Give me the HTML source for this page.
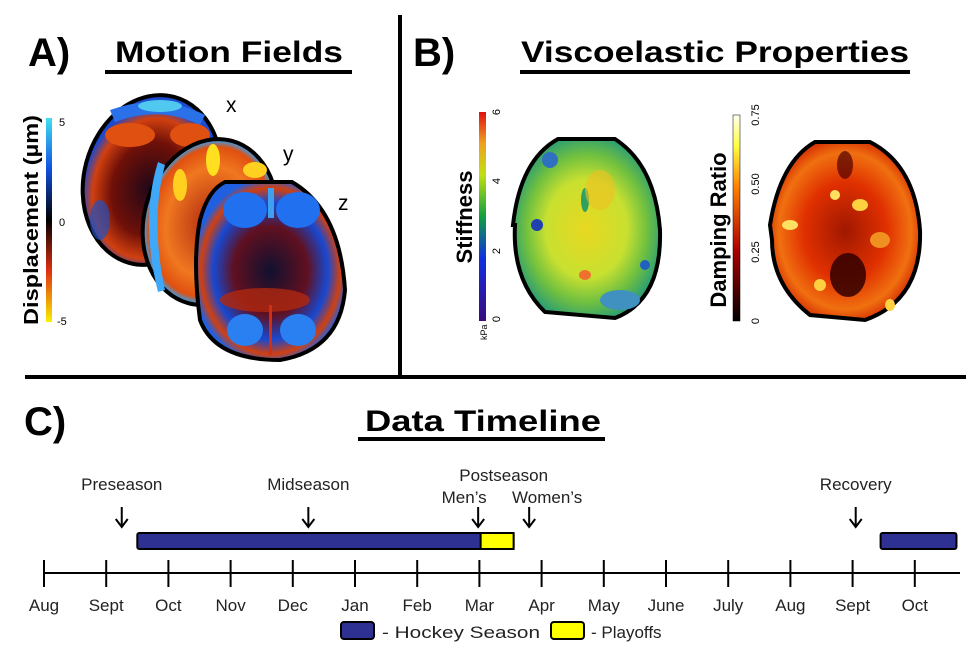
<!DOCTYPE html>
<html><head><meta charset="utf-8"><style>
body{margin:0;background:#fff;width:974px;height:669px;overflow:hidden}
svg{display:block;font-family:"Liberation Sans",Arial,sans-serif}
</style></head><body>
<svg width="974" height="669" viewBox="0 0 974 669">
<defs>
<linearGradient id="disp" x1="0" y1="0" x2="0" y2="1"><stop offset="0" stop-color="#40e0f0"/><stop offset="0.25" stop-color="#1050e0"/><stop offset="0.5" stop-color="#000"/><stop offset="0.75" stop-color="#e03010"/><stop offset="1" stop-color="#f8f000"/></linearGradient>
<linearGradient id="stiff" x1="0" y1="1" x2="0" y2="0"><stop offset="0" stop-color="#3a0a80"/><stop offset="0.3" stop-color="#1030e0"/><stop offset="0.5" stop-color="#10a040"/><stop offset="0.7" stop-color="#c0e010"/><stop offset="0.85" stop-color="#f0a020"/><stop offset="1" stop-color="#e01010"/></linearGradient>
<linearGradient id="damp" x1="0" y1="1" x2="0" y2="0"><stop offset="0" stop-color="#000"/><stop offset="0.35" stop-color="#b00000"/><stop offset="0.65" stop-color="#ff8000"/><stop offset="0.85" stop-color="#ffff40"/><stop offset="1" stop-color="#fffff0"/></linearGradient>
<radialGradient id="bx" cx="0.5" cy="0.55" r="0.55"><stop offset="0" stop-color="#200818"/><stop offset="0.5" stop-color="#701008"/><stop offset="0.75" stop-color="#d04010"/><stop offset="0.9" stop-color="#1848d0"/><stop offset="1" stop-color="#2050d0"/></radialGradient>
<radialGradient id="by" cx="0.5" cy="0.5" r="0.55"><stop offset="0" stop-color="#b02810"/><stop offset="0.6" stop-color="#f07820"/><stop offset="0.82" stop-color="#e05010"/><stop offset="0.9" stop-color="#30a0f0"/></radialGradient>
<radialGradient id="bz" cx="0.5" cy="0.5" r="0.55"><stop offset="0" stop-color="#101030"/><stop offset="0.45" stop-color="#601020"/><stop offset="0.7" stop-color="#1848d0"/><stop offset="0.85" stop-color="#d04010"/><stop offset="0.95" stop-color="#2060e0"/></radialGradient>
<radialGradient id="bs" cx="0.5" cy="0.5" r="0.55"><stop offset="0" stop-color="#e8d820"/><stop offset="0.5" stop-color="#c8e030"/><stop offset="0.75" stop-color="#70c040"/><stop offset="0.95" stop-color="#30a070"/></radialGradient>
<radialGradient id="bd" cx="0.5" cy="0.5" r="0.55"><stop offset="0" stop-color="#a01800"/><stop offset="0.5" stop-color="#e03000"/><stop offset="0.8" stop-color="#f07010"/><stop offset="1" stop-color="#d02000"/></radialGradient>
</defs>

<line x1="400" y1="15" x2="400" y2="378" stroke="#000" stroke-width="4"/>
<line x1="25" y1="377" x2="966" y2="377" stroke="#000" stroke-width="4"/>

<!-- Panel A -->
<text x="28" y="66" font-size="40" font-weight="bold">A)</text>
<text x="115" y="62" font-size="30" font-weight="bold" textLength="228" lengthAdjust="spacingAndGlyphs">Motion Fields</text>
<line x1="105" y1="72" x2="352" y2="72" stroke="#000" stroke-width="4"/>
<rect x="46" y="118" width="6" height="204" fill="url(#disp)"/>
<text x="59" y="126" font-size="11">5</text>
<text x="59" y="226" font-size="11">0</text>
<text x="57" y="325" font-size="11">-5</text>
<text transform="translate(38,220) rotate(-90)" font-size="20" font-weight="bold" text-anchor="middle" textLength="210" lengthAdjust="spacingAndGlyphs">Displacement (µm)</text>
<g><ellipse cx="152" cy="180" rx="68" ry="86" transform="rotate(15 152 180)" fill="url(#bx)" stroke="#000" stroke-width="4"/>
<path d="M110,110 Q160,92 205,115 L200,125 Q160,105 115,122Z" fill="#2a70e8"/><ellipse cx="160" cy="106" rx="22" ry="6" fill="#50c8f0"/>
<ellipse cx="130" cy="135" rx="25" ry="12" fill="#e05010"/><ellipse cx="190" cy="135" rx="20" ry="12" fill="#e05010"/>
<ellipse cx="100" cy="220" rx="10" ry="20" fill="#2050c0" opacity="0.7"/></g>
<g><ellipse cx="210" cy="222" rx="66" ry="84" transform="rotate(15 210 222)" fill="url(#by)" stroke="#000" stroke-width="4"/>
<path d="M165,165 Q150,220 165,290 L158,292 Q140,220 158,162Z" fill="#40a8f8"/>
<ellipse cx="213" cy="160" rx="7" ry="16" fill="#ffe020"/><ellipse cx="180" cy="185" rx="7" ry="16" fill="#ffd020"/><ellipse cx="255" cy="170" rx="12" ry="8" fill="#ffd020"/></g>
<g><path d="M225,182 L292,182 Q340,210 345,290 Q340,350 280,360 Q215,360 200,320 Q192,260 200,220 Q208,190 225,182Z" fill="url(#bz)" stroke="#000" stroke-width="4"/>
<ellipse cx="245" cy="210" rx="22" ry="18" fill="#2070f0"/><ellipse cx="298" cy="210" rx="22" ry="18" fill="#2070f0"/><rect x="268" y="188" width="6" height="30" fill="#40a0f0"/>
<ellipse cx="265" cy="300" rx="45" ry="12" fill="#b02810" opacity="0.8"/>
<ellipse cx="245" cy="330" rx="18" ry="16" fill="#2a80f0"/><ellipse cx="298" cy="330" rx="18" ry="16" fill="#2a80f0"/><rect x="269" y="305" width="3" height="50" fill="#d03010"/></g>
<text x="226" y="112" font-size="21">x</text>
<text x="283" y="161" font-size="21">y</text>
<text x="338" y="210" font-size="21">z</text>

<!-- Panel B -->
<text x="413" y="66" font-size="40" font-weight="bold">B)</text>
<text x="521" y="62" font-size="30" font-weight="bold" textLength="388" lengthAdjust="spacingAndGlyphs">Viscoelastic Properties</text>
<line x1="520" y1="72" x2="910" y2="72" stroke="#000" stroke-width="4"/>
<rect x="479" y="112" width="7" height="209" fill="url(#stiff)"/>
<g font-size="11">
<text transform="translate(500,112) rotate(-90)" text-anchor="middle">6</text>
<text transform="translate(500,181) rotate(-90)" text-anchor="middle">4</text>
<text transform="translate(500,251) rotate(-90)" text-anchor="middle">2</text>
<text transform="translate(500,319) rotate(-90)" text-anchor="middle">0</text>
<text transform="translate(487,340) rotate(-90)" font-size="9">kPa</text></g>
<text transform="translate(472,217) rotate(-90)" font-size="22" font-weight="bold" text-anchor="middle">Stiffness</text>
<g>
<path d="M558,139 L615,139 Q655,165 660,230 Q662,300 615,318 L545,312 Q512,280 515,225 L513,225 Q520,160 558,139Z" fill="url(#bs)" stroke="#000" stroke-width="4"/>
<ellipse cx="550" cy="160" rx="8" ry="8" fill="#3070c0"/><ellipse cx="537" cy="225" rx="6" ry="6" fill="#2040b0"/><ellipse cx="585" cy="200" rx="4" ry="12" fill="#30a060"/>
<ellipse cx="620" cy="300" rx="20" ry="10" fill="#4090c0"/><ellipse cx="585" cy="275" rx="6" ry="5" fill="#f07030"/><ellipse cx="645" cy="265" rx="5" ry="5" fill="#2060c0"/>
<ellipse cx="600" cy="190" rx="15" ry="20" fill="#f0c020" opacity="0.6"/></g>
<rect x="733" y="115" width="7" height="206" fill="url(#damp)" stroke="#000" stroke-width="0.5"/>
<g font-size="11">
<text transform="translate(759,115) rotate(-90)" text-anchor="middle">0.75</text>
<text transform="translate(759,184) rotate(-90)" text-anchor="middle">0.50</text>
<text transform="translate(759,252) rotate(-90)" text-anchor="middle">0.25</text>
<text transform="translate(759,321) rotate(-90)" text-anchor="middle">0</text></g>
<text transform="translate(726,230) rotate(-90)" font-size="22" font-weight="bold" text-anchor="middle">Damping Ratio</text>
<g>
<path d="M815,142 L870,142 Q915,165 920,230 Q922,300 865,320 L810,315 Q772,285 772,240 L770,225 Q780,162 815,142Z" fill="url(#bd)" stroke="#000" stroke-width="4"/>
<ellipse cx="848" cy="275" rx="18" ry="22" fill="#300000" opacity="0.85"/><ellipse cx="845" cy="165" rx="8" ry="14" fill="#500000" opacity="0.7"/>
<ellipse cx="790" cy="225" rx="8" ry="5" fill="#ffe060"/><ellipse cx="835" cy="195" rx="5" ry="5" fill="#ffe060"/><ellipse cx="860" cy="205" rx="8" ry="6" fill="#ffd040"/>
<ellipse cx="820" cy="285" rx="6" ry="6" fill="#ffd040"/><ellipse cx="890" cy="305" rx="5" ry="6" fill="#ffd040"/><ellipse cx="880" cy="240" rx="10" ry="8" fill="#f09020"/></g>

<!-- Panel C -->
<text x="24" y="435" font-size="40" font-weight="bold">C)</text>
<text x="365" y="431" font-size="30" font-weight="bold" textLength="236" lengthAdjust="spacingAndGlyphs">Data Timeline</text>
<line x1="358" y1="439" x2="605" y2="439" stroke="#000" stroke-width="4"/>
<g id="tl"></g>
</svg>
<script>
const months = ["Aug","Sept","Oct","Nov","Dec","Jan","Feb","Mar","Apr","May","June","July","Aug","Sept","Oct"];
const seasonBars = [[1.5,7.55],[13.45,14.67]];
const playoffBars = [[7.02,7.55]];
const events = [["Preseason",1.25],["Midseason",4.25],["Men’s",6.98],["Women’s",7.8],["Recovery",13.05]];
const x = m => 44 + m*62.2;
const g = document.getElementById('tl');
const NS = 'http://www.w3.org/2000/svg';
function mk(t, a){const e=document.createElementNS(NS,t);for(const k in a)e.setAttribute(k,a[k]);g.appendChild(e);return e;}
let ax = mk('line',{x1:x(0),y1:573,x2:960,y2:573,stroke:'#000','stroke-width':2});


months.forEach((m,i)=>{
  const t = mk('line',{x1:x(i),y1:560,x2:x(i),y2:587,stroke:'#000','stroke-width':2});
  
  
  const l = mk('text',{x:x(i),y:611,'font-size':17,'text-anchor':'middle',fill:'#222'});
  l.textContent = m;
  
  
});
seasonBars.forEach(b=>{
  const r = mk('rect',{x:x(b[0]),y:533,width:x(b[1])-x(b[0]),height:16,fill:'#2e3192',stroke:'#000','stroke-width':2,rx:2});
  
  
});
playoffBars.forEach(b=>{
  const r = mk('rect',{x:x(b[0]),y:533,width:x(b[1])-x(b[0]),height:16,fill:'#ffff00',stroke:'#000','stroke-width':2});
  
  
});
const labelShift = {"Men’s":-14,"Women’s":18};
events.forEach(e=>{
  const cx = x(e[1]);
  const a = mk('path',{d:`M${cx},507 L${cx},526 M${cx-6},519 L${cx},527 L${cx+6},519`,stroke:'#000','stroke-width':2,fill:'none'});
  
  
  const lowered = (e[0] in labelShift);
  const t = mk('text',{x:cx+(labelShift[e[0]]||0),y:lowered?503:490,'font-size':17,'text-anchor':'middle',fill:'#222'});
  t.textContent = e[0];
  
  
});
const ps = mk('text',{x:(x(events[2][1])+x(events[3][1]))/2,y:481,'font-size':17,'text-anchor':'middle',fill:'#222'});
ps.textContent = 'Postseason';


const lb1 = mk('rect',{x:341,y:622,width:33,height:17,fill:'#2e3192',stroke:'#000','stroke-width':2,rx:3});


const lt1 = mk('text',{x:382,y:638,'font-size':17,fill:'#222',textLength:158,lengthAdjust:'spacingAndGlyphs'});
lt1.textContent = '- Hockey Season';


const lb2 = mk('rect',{x:551,y:622,width:33,height:17,fill:'#ffff00',stroke:'#000','stroke-width':2,rx:3});


const lt2 = mk('text',{x:591,y:638,'font-size':17,fill:'#222'});
lt2.textContent = '- Playoffs';


</script>
</body></html>
